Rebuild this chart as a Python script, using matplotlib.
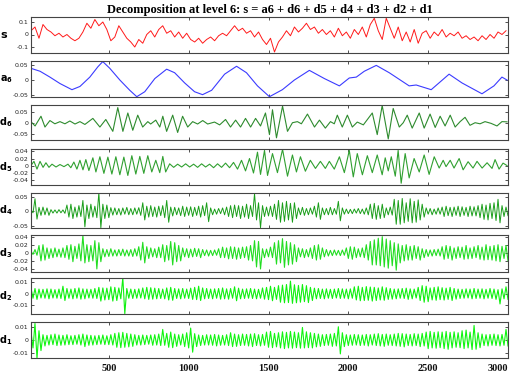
import numpy as np
import matplotlib
matplotlib.use("Agg")
import matplotlib.pyplot as plt

# sample positions run from about 12 to 3000
X_START = 12.5
X_END = 3000

# signal s (units of 0.01), one value every 25 samples
s_vals = [3, 6, -3, 8, 4, 2, -1, 1, -2, 0, -3, -5, -3, 2, 9, 5, 12, 7, 10, 4,
          -5, -2, 7, 2, -3, -6, -10, -4, -7, 0, 3, -2, 4, 7, 1, 3, -2, 2, -3, 1,
          -4, -6, -3, -7, -4, -2, -5, -1, 1, -1, 3, 7, 3, 5, 1, 3, -2, 2, -4, -8,
          -3, -14, -6, -2, 3, -1, 6, 2, 5, 9, 4, 6, 1, 4, 0, 3, -2, 5, -1, 2,
          -3, 4, 0, 6, -2, 8, 13, 3, -4, 13, 5, -3, 6, -5, 2, -6, 4, -7, 1, 3,
          -3, 2, -1, 4, -2, 1, -1, 2, -3, -1, -4, -2, -5, -1, -4, 0, -3, 2, 0, 3]

# approximation a6
a6_x = [12, 69, 131, 194, 269, 319, 381, 431, 462, 506, 569, 631, 675, 725, 788,
        862, 912, 975, 1037, 1087, 1144, 1225, 1300, 1362, 1431, 1506, 1587,
        1662, 1756, 1850, 1944, 2006, 2050, 2100, 2175, 2256, 2381, 2425, 2519,
        2631, 2712, 2837, 2912, 2962, 2994]
a6_y = [0.040, 0.030, 0.010, -0.012, -0.033, -0.022, 0.010, 0.045, 0.063, 0.040,
        0.000, -0.035, -0.057, -0.040, 0.005, 0.037, 0.025, -0.010, -0.040,
        -0.050, -0.035, 0.020, 0.047, 0.025, -0.020, -0.057, -0.033, 0.000,
        0.033, 0.005, -0.020, 0.007, 0.010, 0.030, 0.050, 0.025, -0.020, -0.017,
        -0.033, 0.020, -0.010, -0.047, -0.020, 0.010, 0.000]

# detail d6 (turning points)
d6_x = [12, 38, 75, 100, 131, 162, 194, 225, 256, 288, 319, 350, 400, 444, 481,
        525, 556, 588, 619, 650, 681, 712, 744, 762, 794, 819, 838, 862, 900,
        931, 962, 994, 1025, 1056, 1088, 1119, 1162, 1194, 1231, 1262, 1294,
        1325, 1356, 1388, 1419, 1450, 1481, 1506, 1525, 1550, 1588, 1619, 1650,
        1681, 1706, 1744, 1788, 1819, 1856, 1888, 1912, 1931, 1962, 1994, 2025,
        2056, 2094, 2150, 2181, 2212, 2250, 2281, 2319, 2344, 2369, 2400, 2444,
        2475, 2512, 2544, 2575, 2606, 2638, 2669, 2700, 2731, 2762, 2794, 2825,
        2856, 2894, 2931, 2962, 2994]
d6_y = [0.005, -0.015, 0.03, -0.02, 0.01, -0.005, 0.005, -0.005, 0.008, -0.006,
        0.005, -0.008, 0.02, -0.02, 0.015, -0.04, 0.07, -0.04, 0.045, -0.035,
        0.035, -0.02, 0.005, -0.006, 0.012, -0.02, 0.03, -0.04, 0.035, -0.045,
        0.03, -0.02, 0.005, -0.006, 0.01, -0.006, 0.003, -0.01, 0.015, -0.02,
        0.012, -0.02, 0.02, -0.02, 0.02, -0.015, 0.045, -0.055, 0.06, -0.07,
        0.077, -0.04, 0.0, 0.005, -0.005, 0.04, -0.02, 0.012, -0.025, 0.005,
        -0.005, 0.035, -0.02, 0.035, -0.02, 0.003, -0.01, 0.045, -0.055, 0.08,
        -0.075, 0.066, -0.02, 0.0, 0.035, -0.025, 0.045, -0.025, 0.04, -0.022,
        0.03, -0.015, 0.035, -0.02, 0.005, 0.025, -0.012, 0.0, -0.005, 0.005,
        -0.003, -0.015, 0.005, 0.004]

# detail d5 (turning points)
d5_x = [12, 31, 50, 69, 88, 106, 125, 144, 169, 194, 219, 244, 262, 281, 300,
        319, 338, 356, 375, 400, 419, 444, 469, 494, 519, 544, 569, 594, 619,
        644, 669, 694, 719, 744, 769, 794, 819, 838, 856, 881, 906, 931, 956,
        981, 1006, 1031, 1056, 1081, 1106, 1131, 1156, 1181, 1206, 1231, 1256,
        1281, 1306, 1331, 1356, 1381, 1406, 1431, 1450, 1475, 1494, 1525, 1556,
        1588, 1619, 1650, 1675, 1700, 1731, 1762, 1794, 1825, 1856, 1881, 1912,
        1944, 1975, 2006, 2031, 2056, 2088, 2119, 2150, 2181, 2212, 2231, 2250,
        2269, 2294, 2312, 2331, 2356, 2381, 2412, 2444, 2475, 2506, 2538, 2569,
        2594, 2612, 2638, 2662, 2694, 2719, 2750, 2781, 2806, 2838, 2869, 2900,
        2919, 2944, 2969, 2994]
d5_y = [0.0, 0.012, -0.01, 0.012, -0.005, 0.008, -0.005, 0.004, -0.004, 0.003,
        -0.003, 0.004, -0.006, 0.01, -0.01, 0.015, -0.012, 0.017, -0.014, 0.022,
        -0.018, 0.025, -0.022, 0.024, -0.024, 0.025, -0.026, 0.024, -0.028,
        0.028, -0.024, 0.026, -0.022, 0.028, -0.018, 0.015, -0.02, 0.026,
        -0.018, 0.005, -0.005, 0.004, -0.004, 0.005, -0.004, 0.004, -0.005,
        0.005, -0.004, 0.004, -0.006, 0.005, -0.005, 0.007, -0.006, 0.009,
        -0.01, 0.015, -0.015, 0.02, -0.021, 0.038, -0.025, 0.043, -0.028, 0.034,
        -0.02, 0.046, -0.03, 0.03, -0.018, 0.025, -0.016, 0.015, -0.008, 0.012,
        -0.008, 0.012, -0.01, 0.025, -0.02, 0.043, -0.032, 0.034, -0.026, 0.028,
        -0.02, 0.03, -0.026, 0.022, -0.015, 0.025, -0.03, 0.043, -0.05, 0.034,
        -0.035, 0.02, -0.018, 0.03, -0.025, 0.025, -0.007, 0.015, -0.003, 0.015,
        -0.007, 0.02, -0.012, 0.011, -0.007, 0.012, -0.007, 0.008, -0.008,
        0.017, -0.01, 0.007, 0.0]

# dense details: upper / lower swing read every 25 samples
d4_hi = [5, 44, 14, 15, 12, 6, 5, 6, 5, 22, 25, 15, 20, 38, 22, 25, 18, 65, 25, 22,
         13, 12, 10, 12, 14, 10, 12, 13, 30, 18, 20, 15, 18, 20, 38, 15, 14, 12, 18, 15,
         16, 14, 18, 20, 30, 12, 8, 10, 12, 15, 20, 22, 20, 18, 25, 20, 62, 30, 20, 15,
         18, 25, 38, 30, 35, 28, 30, 12, 14, 10, 12, 18, 30, 12, 10, 14, 10, 35, 12, 8,
         7, 8, 10, 8, 12, 25, 28, 20, 25, 12, 15, 42, 38, 45, 30, 44, 35, 40, 25, 12,
         10, 8, 12, 15, 18, 14, 15, 18, 16, 14, 18, 16, 20, 25, 22, 28, 30, 42, 20, 15]
d4_lo = [-5, -27, -14, -12, -14, -6, -6, -5, -7, -20, -25, -20, -18, -54, -25, -20, -22, -57, -25, -22,
         -13, -12, -13, -10, -12, -12, -10, -14, -30, -20, -18, -20, -15, -22, -38, -16, -12, -15, -18, -14,
         -18, -14, -20, -15, -36, -12, -10, -8, -12, -18, -22, -18, -25, -20, -25, -18, -30, -57, -18, -16,
         -18, -28, -38, -35, -30, -38, -25, -12, -14, -12, -10, -20, -28, -12, -12, -12, -10, -33, -10, -8,
         -8, -6, -8, -10, -12, -25, -28, -25, -22, -12, -13, -45, -45, -40, -35, -40, -38, -30, -20, -10,
         -12, -10, -10, -18, -15, -18, -14, -18, -14, -18, -16, -16, -22, -28, -30, -25, -32, -40, -18, -15]

d3_hi = [4, 8, 18, 20, 12, 10, 12, 9, 12, 18, 20, 16, 22, 43, 20, 18, 30, 25, 10, 8,
         10, 7, 8, 9, 7, 8, 10, 15, 26, 15, 12, 10, 14, 20, 18, 28, 25, 18, 12, 10,
         9, 11, 10, 8, 7, 6, 7, 10, 14, 12, 15, 14, 12, 14, 15, 18, 30, 28, 10, 9,
         14, 25, 30, 35, 28, 25, 20, 12, 10, 8, 12, 18, 20, 12, 8, 6, 7, 6, 7, 12,
         15, 14, 10, 12, 20, 28, 32, 36, 40, 34, 30, 25, 22, 18, 20, 16, 18, 15, 10, 8,
         7, 8, 9, 15, 18, 16, 12, 15, 14, 18, 12, 15, 18, 14, 20, 16, 18, 20, 16, 18]
d3_lo = [-4, -6, -20, -18, -14, -12, -10, -11, -12, -16, -22, -14, -20, -25, -22, -20, -40, -22, -10, -9,
         -8, -8, -7, -8, -8, -9, -8, -18, -25, -14, -10, -12, -12, -22, -18, -30, -22, -20, -10, -12,
         -10, -9, -12, -7, -8, -7, -6, -12, -12, -15, -14, -16, -14, -12, -18, -20, -35, -40, -12, -10,
         -12, -28, -25, -36, -30, -28, -22, -10, -12, -10, -14, -18, -16, -10, -8, -7, -6, -7, -6, -14,
         -16, -12, -10, -12, -18, -30, -30, -32, -35, -38, -32, -43, -25, -20, -18, -18, -14, -18, -12, -9,
         -8, -7, -8, -16, -14, -18, -14, -12, -16, -15, -14, -12, -16, -18, -17, -18, -20, -22, -14, -20]

d2_hi = [50, 45, 40, 38, 42, 40, 35, 40, 65, 45, 40, 45, 50, 42, 40, 38, 45, 55, 50, 48,
         60, 55, 50, 140, 45, 40, 38, 42, 50, 55, 52, 48, 45, 40, 50, 55, 45, 42, 45, 40,
         48, 55, 65, 50, 45, 40, 42, 45, 50, 42, 45, 60, 48, 40, 42, 45, 40, 38, 50, 55,
         65, 55, 70, 75, 80, 110, 78, 72, 80, 70, 55, 48, 45, 40, 42, 38, 40, 45, 42, 40,
         42, 60, 65, 55, 62, 58, 55, 50, 60, 52, 45, 40, 42, 45, 48, 42, 40, 55, 70, 65,
         50, 55, 60, 52, 48, 55, 45, 40, 38, 42, 40, 45, 40, 42, 38, 45, 40, 35, 42, 60]
d2_lo = [-40, -50, -38, -40, -45, -38, -40, -42, -60, -40, -45, -40, -48, -45, -38, -40, -42, -65, -55, -52,
         -65, -60, -45, -175, -40, -42, -40, -38, -45, -50, -48, -45, -42, -45, -55, -58, -42, -45, -40, -42,
         -50, -52, -60, -45, -42, -45, -40, -48, -45, -48, -40, -62, -45, -42, -40, -42, -45, -40, -48, -52,
         -62, -50, -75, -80, -78, -85, -80, -75, -70, -78, -60, -45, -42, -45, -40, -42, -38, -42, -40, -45,
         -40, -55, -62, -60, -58, -65, -60, -55, -58, -50, -48, -45, -40, -42, -50, -45, -38, -60, -75, -70,
         -55, -58, -52, -56, -50, -60, -48, -42, -40, -38, -45, -42, -40, -45, -40, -42, -50, -90, -45, -50]

d1_hi = [60, 125, 70, 40, 35, 40, 45, 38, 35, 40, 32, 35, 40, 45, 38, 35, 32, 35, 38, 32,
         40, 50, 55, 58, 50, 45, 40, 35, 38, 35, 38, 40, 45, 80, 50, 60, 45, 40, 45, 55,
         90, 48, 38, 35, 40, 38, 42, 38, 35, 40, 55, 45, 40, 45, 42, 45, 48, 40, 42, 60,
         65, 50, 55, 62, 58, 65, 60, 55, 95, 62, 55, 50, 45, 40, 42, 45, 50, 100, 55, 40,
         38, 42, 40, 38, 42, 40, 45, 48, 42, 45, 40, 45, 50, 48, 45, 42, 48, 45, 50, 60,
         65, 58, 62, 60, 65, 58, 62, 55, 70, 75, 60, 110, 55, 45, 40, 42, 45, 40, 42, 80]
d1_lo = [-60, -140, -80, -45, -38, -35, -42, -40, -38, -35, -35, -32, -38, -50, -40, -38, -35, -32, -35, -35,
         -38, -55, -58, -55, -52, -48, -38, -38, -35, -32, -40, -38, -42, -40, -55, -58, -48, -38, -50, -60,
         -92, -50, -42, -38, -38, -40, -45, -40, -38, -42, -50, -48, -42, -40, -45, -50, -42, -45, -40, -55,
         -58, -52, -60, -65, -60, -62, -58, -62, -60, -58, -60, -52, -48, -42, -40, -48, -45, -105, -50, -42,
         -40, -38, -42, -40, -45, -38, -42, -45, -48, -40, -42, -45, -48, -52, -42, -45, -42, -50, -45, -65,
         -60, -62, -58, -65, -70, -60, -55, -58, -65, -60, -72, -70, -58, -42, -45, -40, -42, -45, -40, -45]

labels = ["s", "a", "d", "d", "d", "d", "d", "d"]
subs = ["", "6", "6", "5", "4", "3", "2", "1"]
ylims = [(-0.148, 0.14), (-0.058, 0.065), (-0.08, 0.082), (-0.055, 0.047),
         (-0.058, 0.064), (-0.0475, 0.044), (-0.0178, 0.0137), (-0.0136, 0.0136)]
yticks = [[-0.1, 0, 0.1], [-0.05, 0, 0.05], [-0.05, 0, 0.05],
          [-0.04, -0.02, 0, 0.02, 0.04], [-0.05, 0, 0.05],
          [-0.04, -0.02, 0, 0.02, 0.04], [-0.01, 0, 0.01], [-0.01, 0, 0.01]]
ytick_labels = [["-0.1", "0", "0.1"], ["-0.05", "0", "0.05"], ["-0.05", "0", "0.05"],
                ["-0.04", "-0.02", "0", "0.02", "0.04"], ["-0.05", "0", "0.05"],
                ["-0.04", "-0.02", "0", "0.02", "0.04"], ["-0.01", "0", "0.01"],
                ["-0.01", "0", "0.01"]]
xticks = [500, 1000, 1500, 2000, 2500, 3000]
colors = ["#ff1a1a", "#3b3bff", "#2e8b2e", "#30a030", "#1a9e1a", "#22dd22",
          "#10f010", "#10f510"]

title = "Decomposition at level 6: s = a6 + d6 + d5 + d4 + d3 + d2 + d1"


def zigzag(hi, lo, scale):
    y = np.empty(2 * len(hi))
    y[0::2] = np.array(hi) * scale
    y[1::2] = np.array(lo) * scale
    x = X_START + 12.5 * np.arange(len(y))
    return x, y


s_x = X_START + 25 * np.arange(len(s_vals))
series = [
    (s_x, np.array(s_vals) * 0.01),
    (a6_x, a6_y),
    (d6_x, d6_y),
    (d5_x, d5_y),
    zigzag(d4_hi, d4_lo, 0.001),
    zigzag(d3_hi, d3_lo, 0.001),
    zigzag(d2_hi, d2_lo, 0.0001),
    zigzag(d1_hi, d1_lo, 0.0001),
]
widths = [0.7, 0.8, 0.8, 0.8, 0.7, 0.8, 0.8, 0.8]

W, H = 513, 374
fig = plt.figure(figsize=(W / 100, H / 100), dpi=100)
fig.patch.set_facecolor("white")

# panel top / bottom in pixels
panels = [(17, 53), (61, 97), (105, 140), (149, 185), (193, 228), (235, 272),
          (278, 314), (322, 358)]
left, right = 31, 508

for i, (top, bot) in enumerate(panels):
    ax = fig.add_axes([left / W, 1 - bot / H, (right - left) / W, (bot - top) / H])
    x, y = series[i]
    ax.plot(x, y, color=colors[i], lw=widths[i])
    ax.set_xlim(X_START, X_END)
    ax.set_ylim(*ylims[i])
    ax.set_yticks(yticks[i])
    ax.set_yticklabels(ytick_labels[i])
    ax.set_xticks(xticks)
    ax.tick_params(direction="in", length=2.5, width=0.6, color="#333333",
                   top=True, right=True, labelsize=4.5, pad=2,
                   labelcolor="#222222")
    for sp in ax.spines.values():
        sp.set_color("#444444")
        sp.set_linewidth(0.8)
    if i < len(panels) - 1:
        ax.set_xticklabels([])
    else:
        ax.set_xticklabels([str(t) for t in xticks], fontsize=7.5,
                           fontweight="bold", family="Liberation Serif",
                           color="#111111")
        ax.tick_params(axis="x", pad=4)
        ax.get_xticklabels()[-1].set_horizontalalignment("right")
    yc = 1 - (top + bot) / 2 / H
    if subs[i]:
        txt = r"$\mathbf{%s_{%s}}$" % (labels[i], subs[i])
        fig.text(12.5 / W, yc, txt, ha="right", va="center", fontsize=7)
    else:
        fig.text(8 / W, yc, r"$\mathbf{s}$", ha="right", va="center", fontsize=8)

fig.text(270 / W, 1 - 10 / H, title, ha="center", va="center", fontsize=9,
         fontweight="bold", family="Liberation Serif")

fig.savefig("out.png", dpi=100)
